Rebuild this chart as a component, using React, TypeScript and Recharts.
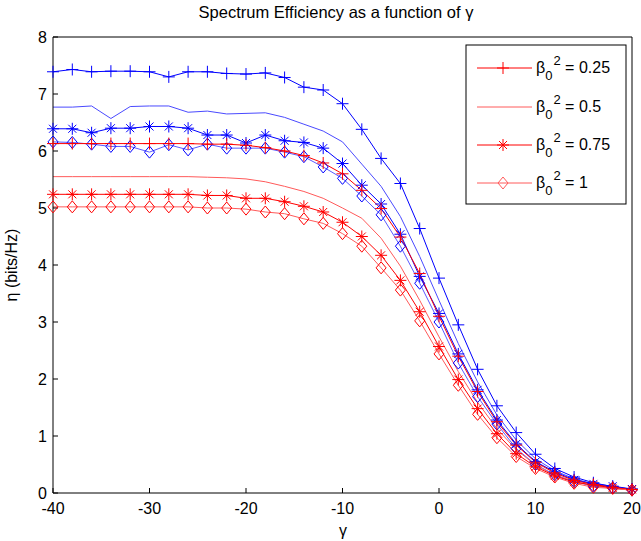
import React from "react";
import { LineChart, Line, XAxis, YAxis } from "recharts";

const gamma = [-40, -38, -36, -34, -32, -30, -28, -26, -24, -22, -20, -18, -16, -14, -12, -10, -8, -6, -4, -2, 0, 2, 4, 6, 8, 10, 12, 14, 16, 18, 20];

// blue curves
const bluePlus = [7.39, 7.43, 7.39, 7.4, 7.4, 7.39, 7.3, 7.39, 7.39, 7.36, 7.35, 7.37, 7.29, 7.12, 7.07, 6.83, 6.38, 5.87, 5.43, 4.64, 3.77, 2.95, 2.17, 1.53, 1.06, 0.68, 0.43, 0.28, 0.18, 0.11, 0.065];
const bluePlain = [6.77, 6.77, 6.79, 6.57, 6.78, 6.79, 6.79, 6.68, 6.7, 6.65, 6.66, 6.67, 6.59, 6.47, 6.35, 6.16, 5.77, 5.38, 4.85, 4.15, 3.38, 2.62, 1.95, 1.37, 0.93, 0.6, 0.39, 0.25, 0.16, 0.1, 0.06];
const blueStar = [6.39, 6.39, 6.32, 6.4, 6.4, 6.43, 6.43, 6.4, 6.28, 6.28, 6.14, 6.28, 6.18, 6.15, 6.05, 5.78, 5.4, 5.07, 4.54, 3.8, 3.15, 2.44, 1.81, 1.28, 0.86, 0.55, 0.37, 0.23, 0.16, 0.12, 0.07];
const blueDiamond = [6.16, 6.15, 6.12, 6.08, 6.08, 5.98, 6.11, 6.02, 6.12, 6.05, 6.05, 6.05, 5.98, 5.9, 5.72, 5.52, 5.21, 4.88, 4.33, 3.68, 3.0, 2.28, 1.69, 1.21, 0.78, 0.5, 0.32, 0.2, 0.12, 0.09, 0.05];

// red curves
const redPlus = [6.13, 6.13, 6.13, 6.13, 6.13, 6.13, 6.13, 6.13, 6.12, 6.12, 6.1, 6.06, 6.0, 5.92, 5.79, 5.6, 5.31, 4.99, 4.49, 3.85, 3.1, 2.4, 1.78, 1.25, 0.84, 0.54, 0.35, 0.22, 0.15, 0.1, 0.06];
const redPlain = [5.55, 5.55, 5.55, 5.55, 5.55, 5.55, 5.55, 5.55, 5.54, 5.53, 5.51, 5.46, 5.38, 5.29, 5.17, 5.0, 4.82, 4.47, 3.98, 3.38, 2.74, 2.13, 1.59, 1.13, 0.76, 0.49, 0.31, 0.2, 0.13, 0.08, 0.05];
const redStar = [5.24, 5.24, 5.24, 5.24, 5.24, 5.24, 5.24, 5.24, 5.22, 5.22, 5.17, 5.17, 5.11, 5.03, 4.93, 4.75, 4.5, 4.17, 3.73, 3.18, 2.57, 1.99, 1.48, 1.04, 0.69, 0.46, 0.3, 0.19, 0.14, 0.09, 0.06];
const redDiamond = [5.02, 5.02, 5.02, 5.02, 5.02, 5.02, 5.02, 5.02, 5.0, 5.0, 4.98, 4.93, 4.9, 4.81, 4.73, 4.55, 4.33, 3.95, 3.56, 3.02, 2.44, 1.89, 1.38, 0.97, 0.64, 0.43, 0.28, 0.17, 0.1, 0.08, 0.05];

const xTicks = [-40, -30, -20, -10, 0, 10, 20];
const yTicks = [0, 1, 2, 3, 4, 5, 6, 7, 8];
const legendLabels = ["0.25", "0.5", "0.75", "1"];

const rows = gamma.map((g, i) => ({
    g,
    bp: bluePlus[i],
    bn: bluePlain[i],
    bs: blueStar[i],
    bd: blueDiamond[i],
    rp: redPlus[i],
    rn: redPlain[i],
    rs: redStar[i],
    rd: redDiamond[i],
}));

const FONT = "'Liberation Sans', Arial, sans-serif";

function plusMark(cx: number, cy: number, color: string, key?: string) {
    return (
        <g key={key} stroke={color} strokeWidth={1} fill="none">
            <line x1={cx - 6} y1={cy} x2={cx + 6} y2={cy} />
            <line x1={cx} y1={cy - 6} x2={cx} y2={cy + 6} />
        </g>
    );
}

function starMark(cx: number, cy: number, color: string, key?: string) {
    return (
        <g key={key} stroke={color} strokeWidth={1} fill="none">
            <line x1={cx - 6} y1={cy} x2={cx + 6} y2={cy} />
            <line x1={cx} y1={cy - 6} x2={cx} y2={cy + 6} />
            <line x1={cx - 4} y1={cy - 4} x2={cx + 4} y2={cy + 4} />
            <line x1={cx - 4} y1={cy + 4} x2={cx + 4} y2={cy - 4} />
        </g>
    );
}

function diamondMark(cx: number, cy: number, color: string, key?: string) {
    return (
        <path
            key={key}
            d={`M${cx},${cy - 6}L${cx + 5},${cy}L${cx},${cy + 6}L${cx - 5},${cy}Z`}
            stroke={color}
            strokeWidth={1}
            fill="none"
        />
    );
}

const dotWith = (fn: typeof plusMark, color: string) => (props: any) =>
    fn(props.cx, props.cy, color, `d-${props.index}`);

function Legend() {
    const rowsY = [68, 107, 145, 183];
    const colors = ["#ff0000", "#ff5a5a", "#ff0000", "#ff5a5a"];
    return (
        <svg
            width={641}
            height={541}
            style={{ position: "absolute", left: 0, top: 0 }}
            fontFamily={FONT}
        >
            <rect x={466} y={45} width={160} height={159} fill="#fff" stroke="#000" strokeWidth={1} />
            {rowsY.map((y, i) => (
                <g key={i}>
                    <line x1={477} y1={y} x2={532} y2={y} stroke={colors[i]} strokeWidth={1} />
                    {i === 0 && plusMark(503, y, colors[i])}
                    {i === 2 && starMark(503, y, colors[i])}
                    {i === 3 && diamondMark(503, y, colors[i])}
                    <text x={536} y={y + 5} fontSize={16} fill="#000">
                        β
                        <tspan dy={7} fontSize={13}>0</tspan>
                        <tspan dy={-15} dx={1} fontSize={13}>2</tspan>
                        <tspan dy={8} fontSize={16}>{" = " + legendLabels[i]}</tspan>
                    </text>
                </g>
            ))}
        </svg>
    );
}

export default function App() {
    return (
        <div style={{ position: "absolute", left: 0, top: 0, width: 641, height: 541, background: "#fff" }}>
            <LineChart
                width={641}
                height={541}
                data={rows}
                margin={{ top: 36, right: 8, bottom: 18, left: 13 }}
                style={{ fontFamily: FONT }}
            >
                <XAxis
                    dataKey="g"
                    type="number"
                    domain={[-40, 20]}
                    ticks={xTicks}
                    tickSize={-5}
                    tickMargin={15}
                    height={30}
                    stroke="#000"
                    tick={{ fill: "#000", fontSize: 16 }}
                />
                <XAxis
                    xAxisId="top"
                    orientation="top"
                    dataKey="g"
                    type="number"
                    domain={[-40, 20]}
                    ticks={xTicks}
                    tickSize={-5}
                    tick={false}
                    height={1}
                    stroke="#000"
                />
                <YAxis
                    type="number"
                    domain={[0, 8]}
                    ticks={yTicks}
                    tickSize={-5}
                    tickMargin={11}
                    width={40}
                    stroke="#000"
                    tick={{ fill: "#000", fontSize: 16 }}
                />
                <YAxis
                    yAxisId="right"
                    orientation="right"
                    type="number"
                    domain={[0, 8]}
                    ticks={yTicks}
                    tickSize={-5}
                    tick={false}
                    width={1}
                    stroke="#000"
                />
                <Line dataKey="bp" stroke="#0000ff" strokeWidth={1} dot={dotWith(plusMark, "#0000ff")} isAnimationActive={false} />
                <Line dataKey="bn" stroke="#4a4aff" strokeWidth={1} dot={false} isAnimationActive={false} />
                <Line dataKey="bs" stroke="#0000ff" strokeWidth={1} dot={dotWith(starMark, "#0000ff")} isAnimationActive={false} />
                <Line dataKey="bd" stroke="#5a5aff" strokeWidth={1} dot={dotWith(diamondMark, "#0000ff")} isAnimationActive={false} />
                <Line dataKey="rp" stroke="#ff0000" strokeWidth={1} dot={dotWith(plusMark, "#ff0000")} isAnimationActive={false} />
                <Line dataKey="rn" stroke="#ff5a5a" strokeWidth={1} dot={false} isAnimationActive={false} />
                <Line dataKey="rs" stroke="#ff0000" strokeWidth={1} dot={dotWith(starMark, "#ff0000")} isAnimationActive={false} />
                <Line dataKey="rd" stroke="#ff5a5a" strokeWidth={1} dot={dotWith(diamondMark, "#ff0000")} isAnimationActive={false} />
                <text x={336} y={18} textAnchor="middle" fontSize={16.5} fill="#000">
                    Spectrum Efficiency as a function of γ
                </text>
                <text x={343} y={536} textAnchor="middle" fontSize={16} fill="#000">
                    γ
                </text>
                <text
                    x={17}
                    y={265}
                    textAnchor="middle"
                    fontSize={16}
                    fill="#000"
                    transform="rotate(-90 17 265)"
                >
                    η (bits/Hz)
                </text>
            </LineChart>
            <Legend />
        </div>
    );
}
